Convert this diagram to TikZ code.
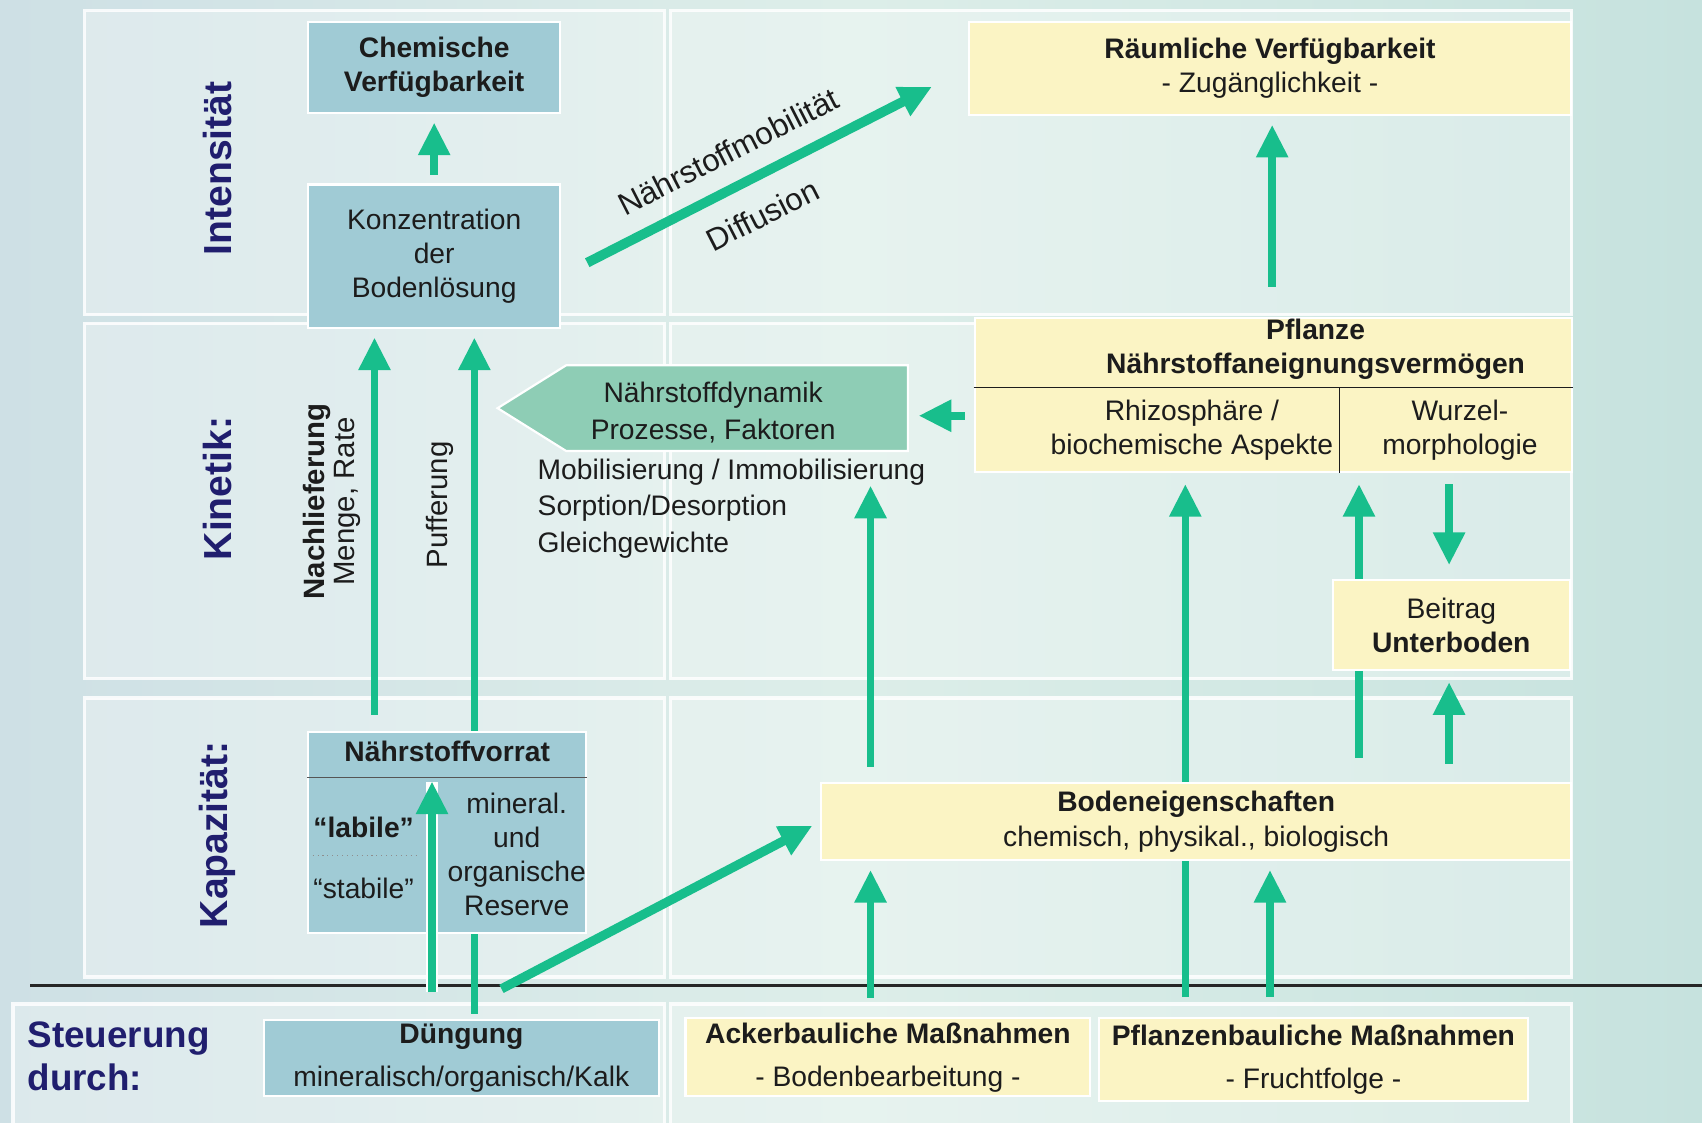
\documentclass[tikz,border=0pt]{standalone}
\usepackage{fontspec}
\setmainfont{Liberation Sans}
\usetikzlibrary{arrows.meta, shapes.symbols, backgrounds}

\definecolor{bgleft}{RGB}{206,224,229}
\definecolor{bgmid}{RGB}{221,238,233}
\definecolor{bgright}{RGB}{198,226,222}
\definecolor{boxblue}{RGB}{160,203,213}
\definecolor{boxmint}{RGB}{142,205,181}
\definecolor{boxyellow}{RGB}{251,244,196}
\definecolor{flowgreen}{RGB}{24,190,140}
\definecolor{navy}{RGB}{32,30,110}
\definecolor{ink}{RGB}{28,28,28}

\newcommand{\bodyfont}{\fontsize{14.8}{17.9}\selectfont}
\newcommand{\listfont}{\fontsize{14.8}{19}\selectfont}
\newcommand{\ctrlfont}{\fontsize{14.8}{22.6}\selectfont}
\newcommand{\slopefont}{\fontsize{16.4}{19}\selectfont}
\newcommand{\rowfont}{\fontsize{20.5}{24}\selectfont\bfseries}
\newcommand{\sidefont}{\fontsize{15.4}{15.6}\selectfont}
\newcommand{\steerfont}{\fontsize{19.3}{22.7}\selectfont\bfseries}

\begin{document}
\begin{tikzpicture}[x=0.2mm, y=-0.2mm,
    panel/.style={draw=white, draw opacity=0.85, line width=0.6mm, fill=white, fill opacity=0.3},
    box/.style={draw=white, line width=0.4mm, inner sep=0pt, align=center, font=\bodyfont, text=ink},
    bluebox/.style={box, fill=boxblue},
    yellowbox/.style={box, fill=boxyellow},
    txt/.style={inner sep=0pt, align=center, font=\bodyfont, text=ink},
    rowlabel/.style={rotate=90, font=\rowfont, text=navy},
    flow/.style={-{Triangle[width=5.6mm, length=6mm]}, draw=flowgreen, line width=1.4mm, shorten <=1.6mm, shorten >=1.6mm}
]
\useasboundingbox (0,0) rectangle (1568,1034);

% background, panels
\begin{scope}[on background layer]
\shade[left color=bgleft, right color=bgright, middle color=bgmid] (0,0) rectangle (1568,1034);
\draw[panel] (78,10) rectangle (612,290);
\draw[panel] (618,10) rectangle (1448,290);
\draw[panel] (78,298) rectangle (612,625);
\draw[panel] (618,298) rectangle (1448,625);
\draw[panel] (78,643) rectangle (612,900);
\draw[panel] (618,643) rectangle (1448,900);
\draw[panel] (12,925) rectangle (612,1045);
\draw[panel] (618,925) rectangle (1448,1045);
\draw[line width=0.6mm, black!85] (28,908) -- (1568,908);
\end{scope}

% row labels
\node[rowlabel] (intens) at (200,155) {Intensität};
\node[rowlabel] (kinetik) at (200,450) {Kinetik:};
\node[rowlabel] (kapaz) at (200,769) {Kapazität:};
\node[font=\steerfont, text=navy, align=left, anchor=west, inner sep=0pt] (steuer) at (25,973) {Steuerung\\durch:};

% intensity
\node[bluebox, minimum width=46.4mm, minimum height=16.8mm, font=\bodyfont\bfseries] (chem) at (400,62) {Chemische\\Verfügbarkeit};
\node[bluebox, minimum width=46.4mm, minimum height=26.4mm] (konz) at (400,236) {Konzentration\\der\\Bodenlösung};
\node[yellowbox, minimum width=111mm, minimum height=17.2mm] (raum) at (1170,63) {\textbf{Räumliche Verfügbarkeit}\\- Zugänglichkeit -};

% kinetics
\node[box, fill=boxmint, shape=signal, signal to=west, signal pointer angle=64, minimum width=75.6mm, minimum height=15.8mm] (dyn) at (679,376) {};
\node[txt, font=\listfont] (dyntext) at (657,380) {Nährstoffdynamik\\Prozesse, Faktoren};
\node[txt, anchor=west, font=\listfont] (mob1) at (495,435) {Mobilisierung / Immobilisierung};
\node[txt, anchor=west] (mob2) at (495,468) {Sorption/Desorption};
\node[txt, anchor=west] (mob3) at (495,502) {Gleichgewichte};

\node[yellowbox, minimum width=110mm, minimum height=28.4mm] (pflanze) at (1173,364) {};
\node[txt, font=\bodyfont\bfseries] (pfltitle) at (1212,322) {Pflanze\\Nährstoffaneignungsvermögen};
\node[txt] (rhizo) at (1098,396) {Rhizosphäre /\\biochemische Aspekte};
\node[txt] (wurzel) at (1345,396) {Wurzel-\\morphologie};
\coordinate (psep) at (1234,357);
\draw[ink, line width=0.25mm] (pflanze.west |- psep) -- (pflanze.east |- psep);
\draw[ink, line width=0.2mm] (psep) -- (psep |- pflanze.south);

\node[yellowbox, minimum width=43.6mm, minimum height=16.6mm] (beitrag) at (1337,576) {Beitrag\\\textbf{Unterboden}};

\node[rotate=90, align=center, font=\sidefont, text=ink] (nachlief) at (306,462) {\textbf{Nachlieferung}\\Menge, Rate};
\node[rotate=90, font=\sidefont, text=ink] (puffer) at (405,465) {Pufferung};

% capacity
\node[bluebox, minimum width=51.2mm, minimum height=37mm] (vorrat) at (412,767) {};
\node[txt, font=\bodyfont\bfseries] (vorrattitle) at (412,692) {Nährstoffvorrat};
\coordinate (vsep) at (412,716);
\draw[ink!75, line width=0.25mm] (vorrat.west |- vsep) -- (vorrat.east |- vsep);
\node[txt, font=\bodyfont\bfseries] (labil) at (335,762) {“labile”};
\draw[ink!50, dotted, line width=0.2mm] (288,788) -- (384,788);
\node[txt] (stabil) at (335,818) {“stabile”};
\node[txt] (reserve) at (476,787) {mineral.\\und\\organische\\Reserve};

\node[yellowbox, minimum width=138.2mm, minimum height=14.2mm] (boden) at (1102,757) {\textbf{Bodeneigenschaften}\\chemisch, physikal., biologisch};

% control
\node[bluebox, minimum width=72.8mm, minimum height=14mm, font=\ctrlfont] (duengung) at (425,975) {\textbf{Düngung}\\mineralisch/organisch/Kalk};
\node[yellowbox, minimum width=74.6mm, minimum height=14.4mm, font=\ctrlfont] (acker) at (818,974) {\textbf{Ackerbauliche Maßnahmen}\\- Bodenbearbeitung -};
\node[yellowbox, minimum width=79mm, minimum height=15.4mm, font=\ctrlfont] (pflbau) at (1210,976) {\textbf{Pflanzenbauliche Maßnahmen}\\- Fruchtfolge -};

% arrows
\coordinate (cNach) at (345,0);
\coordinate (cPuff) at (437,0);
\coordinate (cDuen) at (398,0);
\coordinate (cAcker) at (802,0);
\coordinate (cPfl) at (1092,0);
\coordinate (cFrucht) at (1170,0);
\coordinate (cWurz) at (1252,0);
\coordinate (cUnter) at (1335,0);
\coordinate (cRaum) at (1172,0);
\coordinate (rDyn) at (0,383);

\begin{scope}[on background layer]
\draw[flow] (konz) -- (chem);
\draw[flow, line width=1.8mm, shorten <=0pt, shorten >=0pt] ([shift={(24,6)}]konz.east) -- ([shift={(-33,17)}]raum.west)
    node[pos=.455, sloped, above=3.4mm, txt, font=\slopefont] (mobil) {Nährstoffmobilität}
    node[pos=.46, sloped, below=3.8mm, txt, font=\slopefont] (diffus) {Diffusion};
\draw[flow, shorten <=3mm] (cNach |- vorrat.north) -- (cNach |- konz.south);
\draw[flow, shorten <=1mm] (cPuff |- duengung.north) -- (cPuff |- konz.south);
\draw[flow, line width=1.7mm, shorten <=0pt] ([shift={(37,-28)}]duengung.north) -- (boden.west);
\draw[flow, shorten <=3.6mm] (cAcker |- acker.north) -- (cAcker |- boden.south);
\draw[flow, shorten <=2.8mm, shorten >=0pt] (cAcker |- boden.north) -- (cAcker |- mob1.south);
\draw[flow, shorten <=3.6mm, shorten >=2mm] (cPfl |- pflbau.north) -- (cPfl |- pflanze.south);
\draw[flow, shorten <=3.6mm] (cFrucht |- pflbau.north) -- (cFrucht |- boden.south);
\draw[flow, shorten <=4.4mm, shorten >=2mm] (cWurz |- boden.north) -- (cWurz |- pflanze.south);
\draw[flow, shorten <=2mm, shorten >=2.6mm] (cUnter |- pflanze.south) -- (cUnter |- beitrag.north);
\draw[flow, shorten <=3.4mm, shorten >=2mm] (cUnter |- boden.north) -- (cUnter |- beitrag.south);
\draw[flow, shorten >=1.8mm] (pflanze.west |- rDyn) -- (dyn.east |- rDyn);
\draw[flow, shorten <=5.6mm] (cRaum |- pflanze.north) -- (cRaum |- raum.south);
\end{scope}
\draw[flow, shorten <=5mm, shorten >=0.8mm, preaction={draw=white, line width=2.2mm, -}] (cDuen |- duengung.north) -- (cDuen |- vsep);
\end{tikzpicture}
\end{document}
